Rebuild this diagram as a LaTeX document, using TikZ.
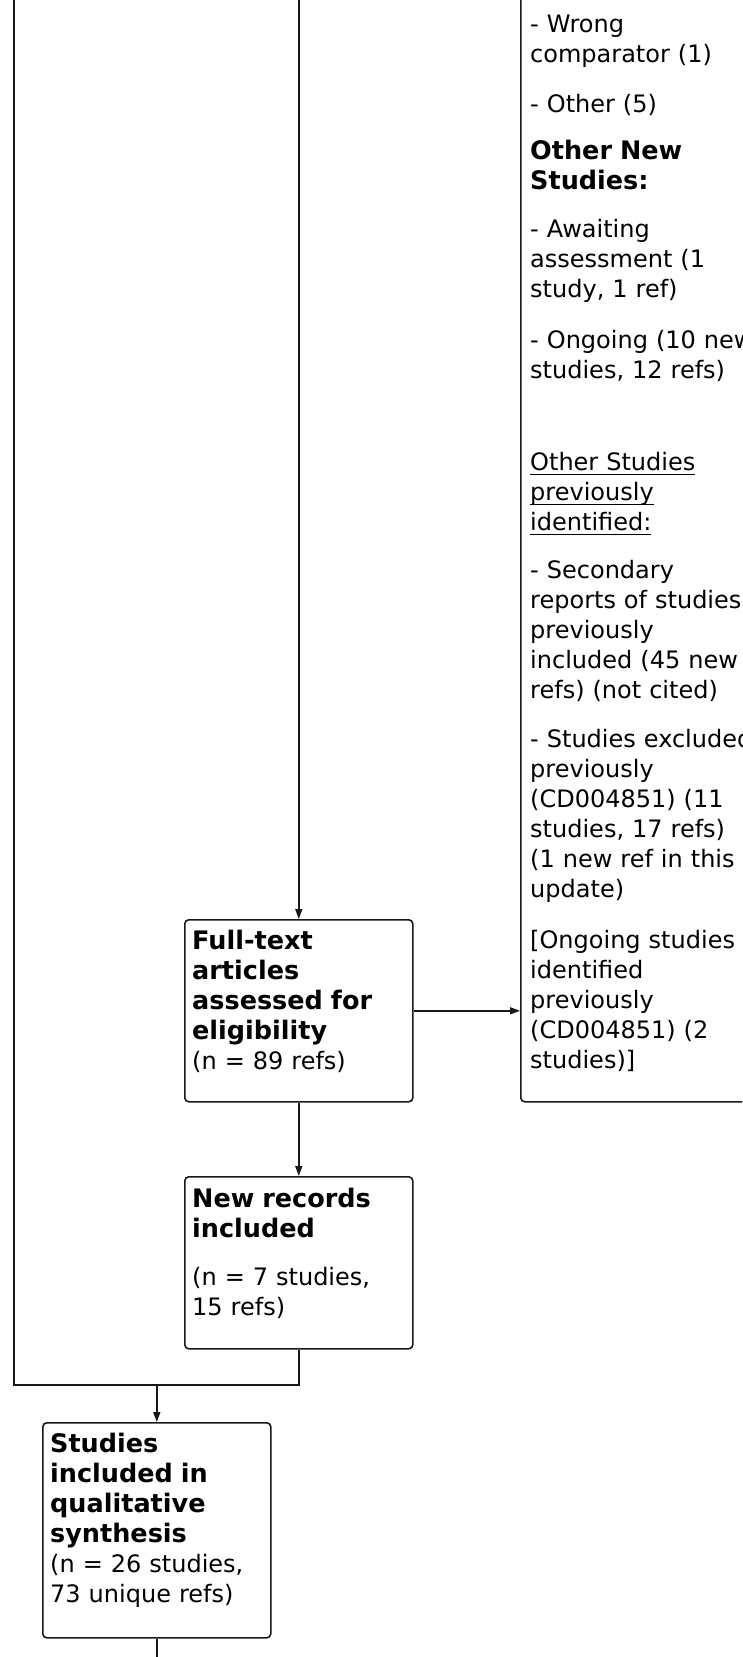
\documentclass[tikz,border=0pt]{standalone}
\usepackage{fontspec}
\setmainfont{DejaVu Sans}
\usetikzlibrary{arrows.meta}
% underline at a fixed distance below the baseline
\newcommand\ulin[1]{\leavevmode\setbox0\hbox{#1}\rlap{\rule[-5pt]{\wd0}{1.2pt}}\box0}
% headings are set a little larger than the body text
\newcommand\hd{\fontsize{25.5}{30}\selectfont\bfseries}
\newcommand\bd{\fontsize{24}{30}\selectfont\mdseries}
\begin{document}
\begin{tikzpicture}[x=1pt,y=-1pt,
  line/.style={draw=black!90, line width=1.6pt},
  arr/.style={line, -{Triangle[length=10pt,width=7pt]}},
  flowbox/.style={line, rounded corners=4pt, inner sep=0pt, anchor=north west},
  txt/.style={anchor=north west, inner sep=0pt, text width=320pt, align=left,
              font=\fontsize{24}{30}\selectfont},
]
\useasboundingbox (0,0) rectangle (742,1657);
\clip (0,0) rectangle (742,1657);

% boxes
\node[flowbox, minimum width=300pt, minimum height=1160pt] (excl) at (520,-59) {};
\node[flowbox, minimum width=228pt, minimum height=182pt] (ft) at (184,919) {};
\node[flowbox, minimum width=228pt, minimum height=172pt] (nr) at (184,1176) {};
\node[flowbox, minimum width=228pt, minimum height=215pt] (sq) at (42,1422) {};

% exclusion list
\node[txt] (p1) at (530,11) {\strut- Wrong\\comparator (1)};
\node[txt] (p2) at (530,91) {\strut- Other (5)};
\node[txt] (p3) at (530,138) {\hd\strut Other New\\Studies:};
\node[txt] (p4) at (530,216) {\strut- Awaiting\\assessment (1\\study, 1 ref)};
\node[txt] (p5) at (530,327) {\strut- Ongoing (10 new\\studies, 12 refs)};
\node[txt] (p6) at (530,449) {\strut\ulin{Other Studies}\\\ulin{previously}\\\ulin{identified:}};
\node[txt] (p7) at (530,557) {\strut- Secondary\\reports of studies\\previously\\included (45 new\\refs) (not cited)};
\node[txt] (p8) at (530,726) {\strut- Studies excluded\\previously\\(CD004851) (11\\studies, 17 refs)\\(1 new ref in this\\update)};
\node[txt] (p9) at (530,927) {\strut[Ongoing studies\\identified\\previously\\(CD004851) (2\\studies)]};

% flow box texts
\node[txt] (ftt) at (192,928) {\hd\strut Full-text\\articles\\assessed for\\eligibility\\\bd(n = 89 refs)};
\node[txt] (nrt) at (192,1186) {\hd\strut New records\\included\\[18pt]\bd(n = 7 studies,\\15 refs)};
\node[txt] (sqt) at (50,1431) {\hd\strut Studies\\included in\\qualitative\\synthesis\\\bd(n = 26 studies,\\73 unique refs)};

% connectors
\coordinate (ltop) at (14,-5);
\coordinate (mtop) at (298,-5);
\coordinate (join) at (156,1385);
\coordinate (sbot) at (156,1665);
\draw[line] (nr.south) -- (nr.south |- join) -| (ltop);
\draw[arr] (ft.north |- mtop) -- (ft.north);
\draw[arr] (ft.south) -- (nr.north);
\draw[arr] (ft.east) -- (ft.east -| excl.west);
\draw[arr] (sq.north |- join) -- (sq.north);
\draw[line] (sq.south) -- (sq.south |- sbot);
\end{tikzpicture}
\end{document}
